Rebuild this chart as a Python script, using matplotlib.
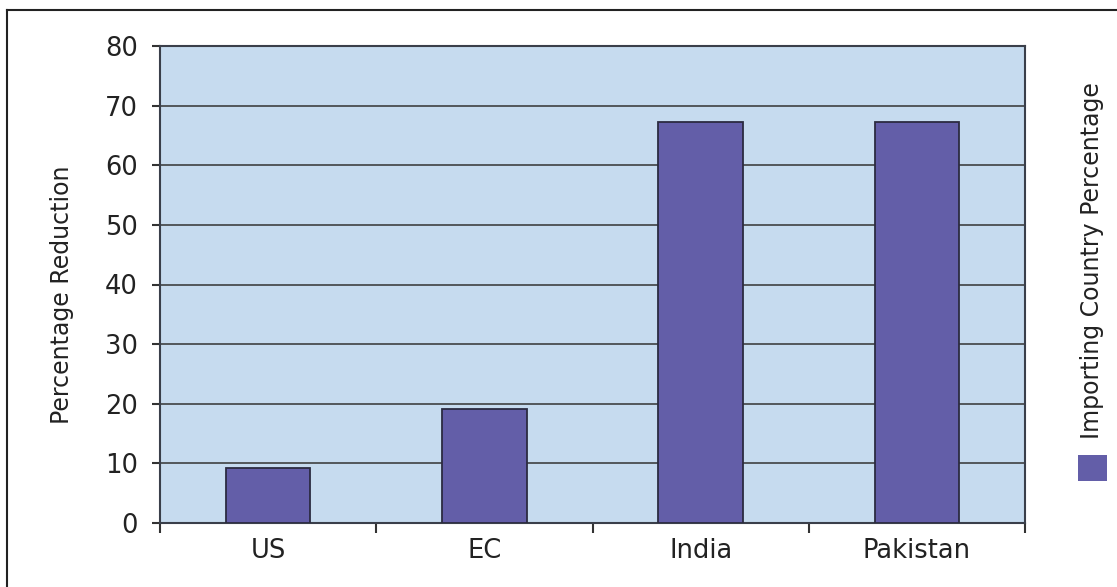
import matplotlib
matplotlib.use("Agg")
import matplotlib.pyplot as plt
from matplotlib.patches import Rectangle
from matplotlib.lines import Line2D

categories = ["US", "EC", "India", "Pakistan"]
values = [9.3, 19.2, 67.3, 67.3]
series_name = "Importing Country Percentage"
y_label = "Percentage Reduction"
y_ticks = [0, 10, 20, 30, 40, 50, 60, 70, 80]

BG = "#C6DBEF"
BAR = "#635EA8"
EDGE = "#2B2B40"
LINE = "#333333"
FS = 18.5

plt.rcParams['font.family'] = ['DejaVu Sans']

fig = plt.figure(figsize=(11.17, 5.87), dpi=100)
ax = fig.add_axes([160/1117, 1-523/587, 865/1117, 477/587])
ax.set_facecolor(BG)

x = list(range(len(categories)))
ax.bar(x, values, width=0.39, color=BAR, edgecolor=EDGE, linewidth=1.3, zorder=3)

ax.set_xlim(-0.5, len(categories) - 0.5)
ax.set_ylim(0, 80)
ax.set_yticks(y_ticks)
ax.set_yticklabels([str(v) for v in y_ticks], fontsize=FS, color="#222222")
ax.yaxis.grid(True, color=LINE, linewidth=1.1, zorder=1)
ax.set_axisbelow(True)

ax.set_xticks([i - 0.5 for i in range(len(categories) + 1)])
ax.set_xticklabels([])
ax.set_xticks(x, minor=True)
ax.set_xticklabels(categories, minor=True, fontsize=FS, color="#222222")
ax.tick_params(axis='x', which='minor', length=0, pad=11)
ax.tick_params(axis='x', which='major', length=7, width=1.5, color=LINE, direction='out')
ax.tick_params(axis='y', length=6, width=1.5, color=LINE, direction='out', pad=10)

for s in ax.spines.values():
    s.set_color("#3a3f4a")
    s.set_linewidth(1.5)

ax.set_ylabel(y_label, fontsize=FS * 0.92, color="#222222")
ax.yaxis.set_label_coords(-0.0994, 0.479)

# legend (rotated, on the right)
fig.text(1092/1117, 1 - 260.5/587, series_name, rotation=90, ha='center', va='center',
         fontsize=FS * 0.92, color="#222222")
fig.patches.append(Rectangle((1078/1117, 1 - 481/587), 29/1117, 26/587,
                             transform=fig.transFigure, facecolor=BAR, edgecolor='none'))

# outer border (left and top visible)
fig.lines.append(Line2D([7/1117, 7/1117], [0, 1 - 10/587], transform=fig.transFigure,
                        color="#222222", linewidth=1.5))
fig.lines.append(Line2D([7/1117, 1], [1 - 10/587, 1 - 10/587], transform=fig.transFigure,
                        color="#222222", linewidth=1.5))

fig.savefig("out.png", dpi=100)
